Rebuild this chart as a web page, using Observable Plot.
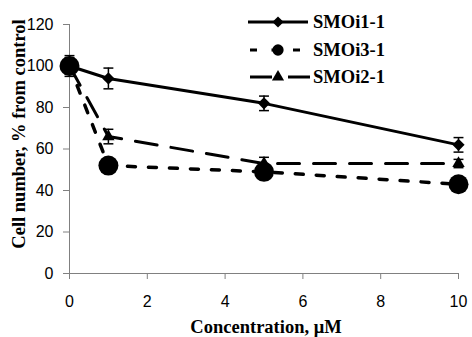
<!DOCTYPE html>
<html>
<head>
<meta charset="utf-8">
<script src="https://cdn.jsdelivr.net/npm/d3@7"></script>
<script src="https://cdn.jsdelivr.net/npm/@observablehq/plot@0.6"></script>
<style>
  html, body { margin: 0; padding: 0; background: #fff; }
  #wrap { position: relative; width: 472px; height: 337px; }
  #legend { position: absolute; left: 0; top: 0; }
</style>
</head>
<body>
<div id="wrap"></div>
<script>
// ---- data ----
const concentrations = [0, 1, 5, 10];
const seriesNames = ["SMOi1-1", "SMOi3-1", "SMOi2-1"];
const smoi1 = [100, 94, 82, 62];
const smoi1Err = [5, 5, 3.5, 3.5];
const smoi2 = [100, 66, 53, 53];
const smoi2Err = [4, 3.5, 3, 2];
const smoi3 = [100, 52, 49, 43];
const smoi3Err = [3, 2, 2, 2];
const xTicks = [0, 2, 4, 6, 8, 10];
const yTicks = [0, 20, 40, 60, 80, 100, 120];
const xTitle = "Concentration, \u03bcM";
const yTitle = "Cell number, % from control";

const toRows = (name, vals, errs) => concentrations.map((c, i) => ({series: name, x: c, y: vals[i], e: errs[i]}));
const d1 = toRows("SMOi1-1", smoi1, smoi1Err);
const d2 = toRows("SMOi2-1", smoi2, smoi2Err);
const d3r = toRows("SMOi3-1", smoi3, smoi3Err);

const capSymbol = {draw(ctx, size) { const w = Math.sqrt(size); ctx.moveTo(-w / 2, 0); ctx.lineTo(w / 2, 0); }};
const serif = "'Liberation Serif', 'Times New Roman', serif";
const sans = "'Liberation Sans', Arial, sans-serif";

function errMarks(data) {
  return [
    Plot.ruleX(data, {x: "x", y1: d => d.y - d.e, y2: d => d.y + d.e, stroke: "black", strokeWidth: 1.5}),
    Plot.dot(data, {x: "x", y: d => d.y + d.e, symbol: capSymbol, r: 5.6, fill: "none", stroke: "black", strokeWidth: 1.5}),
    Plot.dot(data, {x: "x", y: d => d.y - d.e, symbol: capSymbol, r: 5.6, fill: "none", stroke: "black", strokeWidth: 1.5})
  ];
}

const chart = Plot.plot({
  width: 472,
  height: 337,
  marginLeft: 69,
  marginRight: 14,
  marginTop: 24,
  marginBottom: 64,
  style: {background: "white", overflow: "visible", fontSize: "16px", fontFamily: sans},
  x: {domain: [0, 10]},
  y: {domain: [0, 120]},
  marks: [
    Plot.axisX({ticks: xTicks, tickSize: 6, tickPadding: 16, stroke: "#808080", fill: "black", label: null}),
    Plot.axisY({ticks: yTicks, tickSize: 6, tickPadding: 10, stroke: "#808080", fill: "black", label: null}),
    Plot.ruleY([0], {stroke: "#808080"}),
    Plot.ruleX([0], {stroke: "#808080"}),
    Plot.line(d1, {x: "x", y: "y", stroke: "black", strokeWidth: 3}),
    Plot.line(d2, {x: "x", y: "y", stroke: "black", strokeWidth: 3, strokeDasharray: "22,14"}),
    Plot.line(d3r, {x: "x", y: "y", stroke: "black", strokeWidth: 3.5, strokeDasharray: "8,13"}),
    ...errMarks(d1),
    ...errMarks(d2),
    ...errMarks(d3r),
    Plot.dot(d1, {x: "x", y: "y", symbol: "diamond2", r: 5.5, fill: "black", stroke: "none"}),
    Plot.dot(d2, {x: "x", y: "y", symbol: "triangle", r: 4.6, fill: "black", stroke: "none"}),
    Plot.dot(d3r, {x: "x", y: "y", symbol: "circle", r: 10, fill: "black", stroke: "none"}),
    Plot.text([xTitle], {frameAnchor: "bottom", textAnchor: "middle", lineAnchor: "middle", dx: 2, dy: 54, fontFamily: serif, fontWeight: "bold", fontSize: 18.5, fill: "black"}),
    Plot.text([yTitle], {frameAnchor: "left", textAnchor: "middle", lineAnchor: "middle", rotate: -90, dx: -50, dy: -15, fontFamily: serif, fontWeight: "bold", fontSize: 18.5, fill: "black"})
  ]
});

const wrap = document.getElementById("wrap");
wrap.appendChild(chart);

// ---- legend overlay ----
const legendStyles = {
  "SMOi1-1": {dash: null, symbol: d3.symbolDiamond2, size: 80, x1: 248, x2: 308},
  "SMOi3-1": {dash: "7,14.5", symbol: d3.symbolCircle, size: 100, x1: 250, x2: 300},
  "SMOi2-1": {dash: "22,16", symbol: d3.symbolTriangle, size: 64, x1: 250, x2: 310}
};
const legendY = [22, 50, 77];
const svg = d3.select(wrap).append("svg")
  .attr("id", "legend").attr("width", 472).attr("height", 100);
seriesNames.forEach((name, i) => {
  const s = legendStyles[name];
  const g = svg.append("g").attr("transform", `translate(0,${legendY[i]})`);
  g.append("line").attr("x1", s.x1).attr("x2", s.x2).attr("y1", 0).attr("y2", 0)
    .attr("stroke", "black").attr("stroke-width", 3)
    .attr("stroke-dasharray", s.dash);
  g.append("path").attr("d", d3.symbol(s.symbol, s.size)()).attr("transform", "translate(278,0)").attr("fill", "black");
  g.append("text").attr("x", 313).attr("y", 0).attr("dy", "0.35em")
    .attr("font-family", serif).attr("font-weight", "bold").attr("font-size", 18.5)
    .text(name);
});
</script>
</body>
</html>
